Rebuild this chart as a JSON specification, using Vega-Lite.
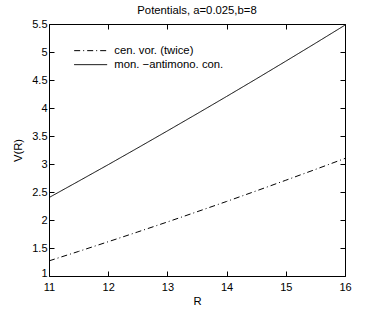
{
  "$schema": "https://vega.github.io/schema/vega-lite/v6.json",
  "autosize": {"type": "none"},
  "width": 296,
  "height": 252,
  "padding": {"left": 49, "top": 24, "right": 37, "bottom": 35},
  "background": "white",
  "title": {"text": "Potentials, a=0.025,b=8", "font": "Liberation Sans", "fontSize": 11.3, "fontWeight": "normal", "color": "black", "offset": 2},
  "config": {
    "view": {"stroke": "black", "strokeWidth": 1},
    "axis": {"domain": false, "grid": false, "labelFlush": false, "labelFont": "Liberation Sans", "titleFont": "Liberation Sans", "labelFontSize": 11, "titleFontSize": 11.3, "titleFontWeight": "normal", "labelColor": "black", "titleColor": "black", "tickColor": "black", "tickSize": -5, "tickWidth": 1, "format": "~g"}
  },
  "data": {"values": [
    {"R": 11, "V": 1.27, "s": "cen. vor. (twice)"},
    {"R": 11.5, "V": 1.439, "s": "cen. vor. (twice)"},
    {"R": 12, "V": 1.612, "s": "cen. vor. (twice)"},
    {"R": 12.5, "V": 1.787, "s": "cen. vor. (twice)"},
    {"R": 13, "V": 1.965, "s": "cen. vor. (twice)"},
    {"R": 13.5, "V": 2.147, "s": "cen. vor. (twice)"},
    {"R": 14, "V": 2.331, "s": "cen. vor. (twice)"},
    {"R": 14.5, "V": 2.519, "s": "cen. vor. (twice)"},
    {"R": 15, "V": 2.71, "s": "cen. vor. (twice)"},
    {"R": 15.5, "V": 2.903, "s": "cen. vor. (twice)"},
    {"R": 16, "V": 3.1, "s": "cen. vor. (twice)"},
    {"R": 11, "V": 2.4, "s": "mon. −antimono. con."},
    {"R": 11.5, "V": 2.693, "s": "mon. −antimono. con."},
    {"R": 12, "V": 2.988, "s": "mon. −antimono. con."},
    {"R": 12.5, "V": 3.288, "s": "mon. −antimono. con."},
    {"R": 13, "V": 3.591, "s": "mon. −antimono. con."},
    {"R": 13.5, "V": 3.897, "s": "mon. −antimono. con."},
    {"R": 14, "V": 4.206, "s": "mon. −antimono. con."},
    {"R": 14.5, "V": 4.519, "s": "mon. −antimono. con."},
    {"R": 15, "V": 4.836, "s": "mon. −antimono. con."},
    {"R": 15.5, "V": 5.156, "s": "mon. −antimono. con."},
    {"R": 16, "V": 5.48, "s": "mon. −antimono. con."}
  ]},
  "layer": [
    {
      "mark": {"type": "line", "strokeWidth": 1, "clip": true},
      "encoding": {
        "x": {"field": "R", "type": "quantitative", "scale": {"domain": [11, 16], "nice": false, "zero": false}, "axis": {"title": "R", "values": [11, 12, 13, 14, 15, 16], "labelPadding": 10, "titlePadding": 3}},
        "y": {"field": "V", "type": "quantitative", "scale": {"domain": [1, 5.5], "nice": false, "zero": false}, "axis": {"title": "V(R)", "values": [1, 1.5, 2, 2.5, 3, 3.5, 4, 4.5, 5, 5.5], "labelPadding": 7, "titlePadding": 8, "labelOffset": {"condition": {"test": "datum.value == 1", "value": -3}, "value": 0}}},
        "color": {"field": "s", "type": "nominal", "scale": {"domain": ["cen. vor. (twice)", "mon. −antimono. con."], "range": ["black", "black"]}, "legend": {"title": null, "orient": "none", "legendX": 36, "legendY": 21, "symbolType": "M-4,0H4", "symbolSize": 68, "symbolStrokeWidth": 1, "labelFont": "Liberation Sans", "labelFontSize": 11.3, "labelColor": "black", "labelOffset": 18, "rowPadding": 2}},
        "strokeDash": {"field": "s", "type": "nominal", "scale": {"domain": ["cen. vor. (twice)", "mon. −antimono. con."], "range": [[6, 3, 1, 3], [1, 0]]}, "legend": {"title": null, "orient": "none", "legendX": 36, "legendY": 21, "symbolType": "M-4,0H4", "symbolSize": 68, "symbolStrokeWidth": 1, "labelFont": "Liberation Sans", "labelFontSize": 11.3, "labelColor": "black", "labelOffset": 18, "rowPadding": 2}}
      }
    },
    {
      "mark": {"type": "line", "opacity": 0},
      "encoding": {
        "x": {"field": "R", "type": "quantitative", "scale": {"domain": [11, 16], "nice": false, "zero": false}, "axis": {"orient": "top", "title": null, "labels": false, "values": [11, 12, 13, 14, 15, 16]}},
        "y": {"field": "V", "type": "quantitative", "scale": {"domain": [1, 5.5], "nice": false, "zero": false}, "axis": {"orient": "right", "title": null, "labels": false, "values": [1, 1.5, 2, 2.5, 3, 3.5, 4, 4.5, 5, 5.5]}}
      }
    }
  ],
  "resolve": {"axis": {"x": "independent", "y": "independent"}}
}
